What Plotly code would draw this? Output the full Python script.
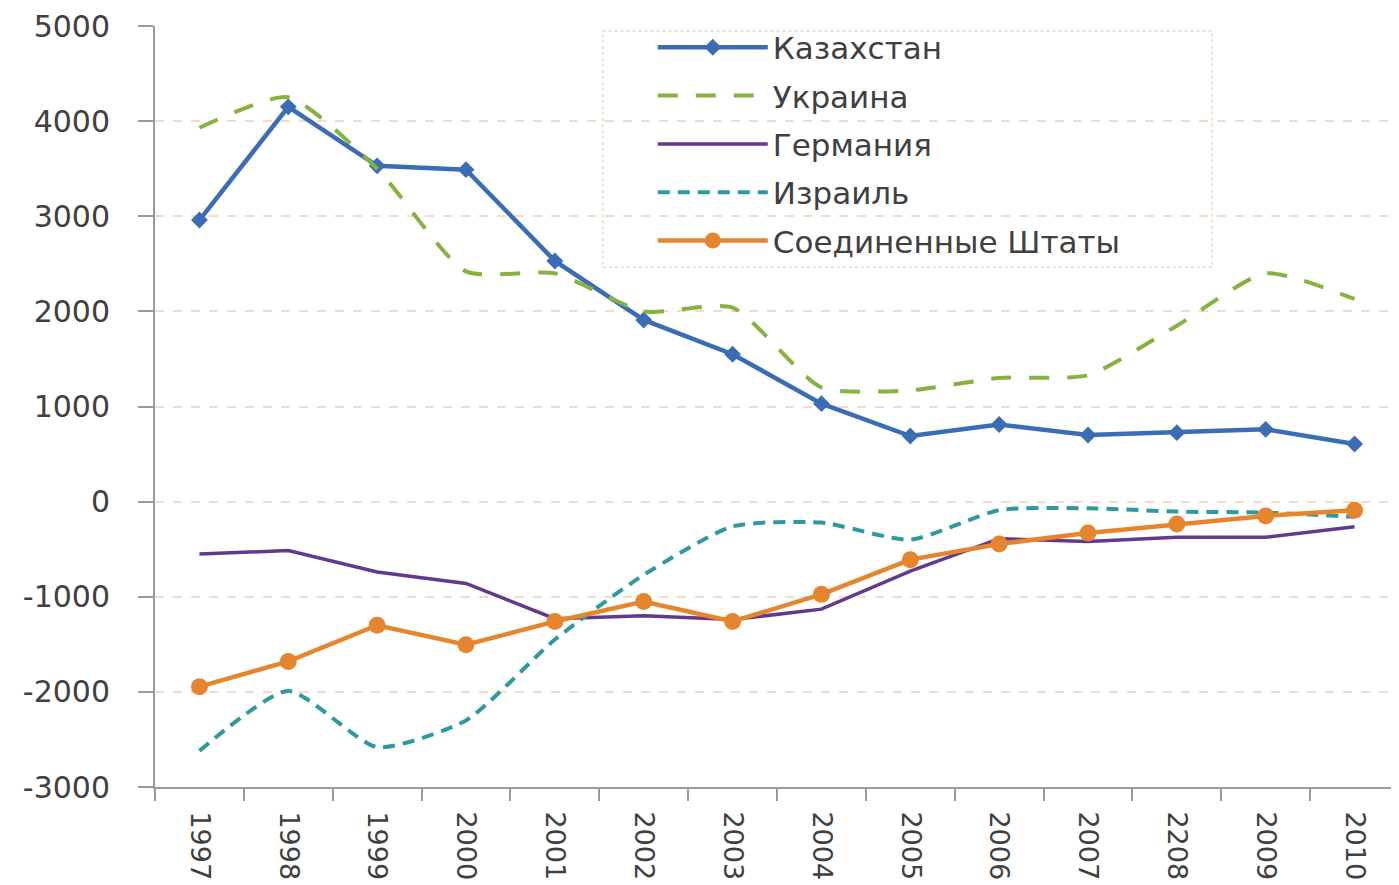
import plotly.graph_objects as go

years = [1997, 1998, 1999, 2000, 2001, 2002, 2003, 2004, 2005, 2006, 2007, 2008, 2009, 2010]
year_labels = ["1997", "1998", "1999", "2000", "2001", "2002", "2003", "2004", "2005",
               "2006", "2007", "2208", "2009", "2010"]

kazakhstan = [2960, 4150, 3530, 3490, 2530, 1910, 1550, 1030, 690, 810, 700, 725, 760, 605]
ukraine = [3930, 4250, 3500, 2420, 2400, 2000, 2040, 1200, 1170, 1300, 1330, 1850, 2400, 2130]
germany = [-550, -515, -740, -860, -1230, -1200, -1240, -1130, -730, -390, -420, -375, -375, -265]
israel = [-2620, -1990, -2580, -2300, -1450, -770, -260, -220, -400, -90, -70, -105, -115, -160]
usa = [-1945, -1680, -1300, -1505, -1260, -1050, -1260, -975, -610, -445, -330, -235, -150, -90]

y_ticks = [-3000, -2000, -1000, 0, 1000, 2000, 3000, 4000, 5000]
y_labels = ["-3000", "-2000", "-1000", "0", "1000", "2000", "3000", "4000", "5000"]

FONT = "DejaVu Sans"
TXT = "#404040"

fig = go.Figure()
fig.add_trace(go.Scatter(
    x=years, y=kazakhstan, name="Казахстан", mode="lines+markers",
    line=dict(color="#3A6DB4", width=4.5),
    marker=dict(symbol="diamond", size=13, color="#3A6DB4"),
    legendgroup="a"))
fig.add_trace(go.Scatter(
    x=years, y=ukraine, name="Украина", mode="lines",
    line=dict(color="#86B23F", width=4, dash="20px,18px", shape="spline", smoothing=0.6),
    legendgroup="b"))
fig.add_trace(go.Scatter(
    x=years, y=germany, name="Германия", mode="lines",
    line=dict(color="#62398C", width=3.5),
    legendgroup="c"))
fig.add_trace(go.Scatter(
    x=years, y=israel, name="Израиль", mode="lines",
    line=dict(color="#2E9A9E", width=4, dash="12px,8px", shape="spline", smoothing=0.6),
    legendgroup="d"))
fig.add_trace(go.Scatter(
    x=years, y=usa, name="Соединенные Штаты", mode="lines+markers",
    line=dict(color="#E5862E", width=4.5),
    marker=dict(symbol="circle", size=17, color="#E5862E"),
    legendgroup="e"))

fig.update_layout(
    width=1391, height=877,
    margin=dict(l=147, r=0, t=13, b=98),
    paper_bgcolor="white", plot_bgcolor="white",
    font=dict(family=FONT, size=28, color=TXT),
    showlegend=True,
    legend=dict(
        x=0.368, y=1.007, xanchor="left", yanchor="top",
        bgcolor="rgba(255,255,255,0)", borderwidth=0,
        font=dict(family=FONT, size=31, color=TXT),
        tracegroupgap=5, itemwidth=110, indentation=40,
    ),
    shapes=[dict(type="rect", xref="paper", yref="paper",
                 x0=0.36, x1=0.8497, y0=0.683, y1=0.9935,
                 line=dict(color="#E6D8CA", width=1.5, dash="dot"),
                 fillcolor="rgba(255,255,255,0.9)", layer="below")],
    xaxis=dict(
        range=[1996.5, 2010.5],
        tickmode="array", tickvals=years, ticktext=year_labels,
        tickangle=90, ticks="", showgrid=False, zeroline=False,
        showline=True, linecolor="#9a9a9a", linewidth=2,
        ticklabelstandoff=17, ticklabeloverflow="allow",
        tickfont=dict(family=FONT, size=27, color=TXT),
        minor=dict(tickmode="array", tickvals=[y + 0.5 for y in years[:-1]] + [1996.5],
                   ticks="outside", ticklen=12, tickcolor="#9a9a9a", tickwidth=1.5,
                   showgrid=False),
    ),
    yaxis=dict(
        range=[-3000, 5000],
        tickmode="array", tickvals=y_ticks, ticktext=y_labels,
        ticks="outside", ticklen=15, tickcolor="#9a9a9a", tickwidth=1.5,
        ticklabelstandoff=22, ticklabeloverflow="allow",
        showline=True, linecolor="#9a9a9a", linewidth=2,
        showgrid=True, gridcolor="#F2DCC8", gridwidth=1.5, griddash="dash",
        zeroline=False,
        tickfont=dict(family=FONT, size=30, color=TXT),
    ),
)

fig.write_html("out.html")
